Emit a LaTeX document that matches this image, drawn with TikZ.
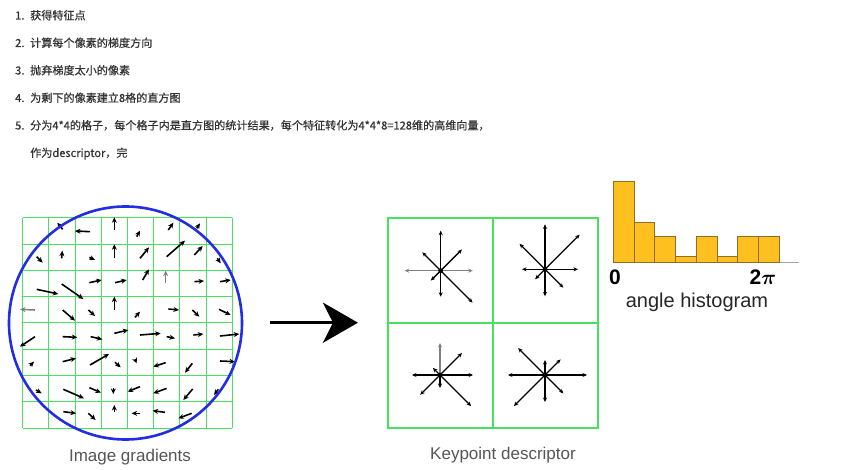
\documentclass[tikz,border=0pt]{standalone}
\usepackage{fontspec}
\setmainfont{Liberation Sans}
\newfontfamily\cjkfont[FakeBold=0.5]{Noto Sans CJK SC}
\usetikzlibrary{arrows.meta}

\definecolor{textgray}{RGB}{50,50,50}
\definecolor{labelgray}{RGB}{85,85,85}
\definecolor{gridgreen}{RGB}{70,225,95}
\definecolor{circleblue}{RGB}{35,45,225}
\definecolor{barfill}{RGB}{253,192,30}
\definecolor{baredge}{RGB}{140,110,40}

\begin{document}
\begin{tikzpicture}[x=1pt,y=-1pt,
    stepline/.style={font=\cjkfont\fontsize{11.1}{13}\selectfont, text=textgray, anchor=base west, inner sep=0pt},
    caption/.style={font=\fontsize{17}{20}\selectfont, text=labelgray},
    grad/.style={line width=1.6pt, -{Stealth[length=5.5pt,width=5pt]}},
    star/.style={line width=1.3pt, -{Stealth[length=4.5pt,width=4pt]}},
    bar/.style={fill=barfill, draw=baredge, line width=0.8pt}]
  \fill[white] (0,0) rectangle (868,470);
  \useasboundingbox (0,0) rectangle (868,470);

  % steps
  \node[stepline] (s1) at (15,19.5) {\makebox[15pt][l]{1.}获得特征点};
  \node[stepline] (s2) at (15,47) {\makebox[15pt][l]{2.}计算每个像素的梯度方向};
  \node[stepline] (s3) at (15,74.5) {\makebox[15pt][l]{3.}抛弃梯度太小的像素};
  \node[stepline] (s4) at (15,102) {\makebox[15pt][l]{4.}为剩下的像素建立8格的直方图};
  \node[stepline] (s5) at (15,129.5) {\makebox[15pt][l]{5.}分为4*4的格子，每个格子内是直方图的统计结果，每个特征转化为4*4*8=128维的高维向量，};
  \node[stepline] (s6) at (15,157) {\makebox[15pt][l]{}作为descriptor，完};

  % image gradients
  \foreach \i in {0,...,8} {
    \draw[gridgreen, line width=1pt] ({22.7+26.2*\i},218) -- ({22.7+26.2*\i},428);
    \draw[gridgreen, line width=1pt] (22.7,{218+26.25*\i}) -- (232.3,{218+26.25*\i});
  }
  \begin{scope}[yshift=-200pt, x=1/3pt, y=-1/3pt]
    \foreach \xa/\ya/\xb/\yb in {188/88/172/68, 270/95/225/93, 343/90/343/52, 410/110/420/92, 505/90/520/68, 590/85/600/70,
        110/170/128/188, 185/175/187/152, 268/172/285/180, 343/175/343/133, 420/175/447/142, 500/170/555/122, 583/165/608/138, 652/175/662/190,
        110/268/175/282, 185/252/250/297, 268/248/305/240, 345/248/380/240, 428/240/447/208, 583/245/612/243, 660/245/692/240,
        188/330/225/362, 265/330/285/348, 343/330/343/290, 405/352/420/335, 505/327/537/330, 577/330/598/350, 657/328/692/345,
        105/410/60/440, 188/410/232/412, 272/410/307/418, 343/400/385/390, 420/405/482/400, 500/410/525/415, 580/405/610/402, 660/408/718/402,
        90/497/102/485, 188/485/228/475, 270/495/327/462, 345/487/362/502, 405/478/410/490, 497/488/460/500, 577/490/555/518, 660/483/705/485,
        108/570/125/580, 190/568/252/595, 268/563/303/578, 340/565/340/582, 420/560/383/575, 500/565/460/580, 578/567/550/600, 655/568/642/585,
        190/635/228/640, 265/640/287/660, 343/635/343/615, 420/640/395/640, 495/637/458/632, 575/640/535/655}
      \draw[grad] (\xa,\ya) -- (\xb,\yb);
    \draw[grad, gray] (497,250) -- (497,212);
    \draw[grad, gray] (105,330) -- (60,328);
  \end{scope}
  \draw[circleblue, line width=2.6pt] (125.5,323) circle (116.5pt);
  \node[caption] (gradlabel) at (130,457) {Image gradients};

  % big arrow
  \coordinate (from) at (270,322.7);
  \coordinate (to) at (358,322.7);
  \draw[line width=3.5pt, -{Stealth[length=35pt,width=40pt,inset=10pt]}] (from) -- (to);

  % keypoint descriptor
  \draw[gridgreen, line width=1.8pt] (388.3,218.3) rectangle (598.3,428.3);
  \draw[gridgreen, line width=1.8pt] (493.3,218.3) -- (493.3,428.3);
  \draw[gridgreen, line width=1.8pt] (388.3,323.3) -- (598.3,323.3);
  \coordinate (tl) at (440.7,270.7);
  \coordinate (tr) at (545,269.3);
  \coordinate (bl) at (440,375);
  \coordinate (br) at (545,375);
  \foreach \a/\l/\col in {0/32/gray,45/30/black,90/40/black,135/26/black,180/36/gray,225/14/black,270/26/black,315/45/black}
    \draw[star, \col] (tl) -- ++(\a:\l pt);
  \foreach \a/\l/\col in {0/33/black,45/49/black,90/45/black,135/36/black,180/23/black,225/14/black,270/27/black,315/26/black}
    \draw[star, \col] (tr) -- ++(\a:\l pt);
  \foreach \a/\l/\col in {0/33/black,45/31/black,90/32/gray,135/10/black,180/28/black,225/28/black,270/13/black,315/44/black}
    \draw[star, \col] (bl) -- ++(\a:\l pt);
  \foreach \a/\l/\col in {0/42/black,45/22/black,90/15/black,135/38/black,180/37/black,225/44/black,270/27/black,315/26/black}
    \draw[star, \col] (br) -- ++(\a:\l pt);
  \foreach \c in {tl,tr,bl,br}
    \fill (\c) circle (2.4pt);
  \node[caption] (desclabel) at (503,455) {Keypoint descriptor};

  % angle histogram
  \draw[gray!70, line width=0.8pt] (613.3,262.7) -- (799,262.7);
  \foreach \h [count=\k] in {81.7,40.3,26.7,6,26.7,6,26.7,26.7}
    \draw[bar] ({613.3+20.75*(\k-1)},262.7) rectangle ({613.3+20.75*\k},{262.7-\h});
  \node[font=\bfseries\fontsize{21}{24}\selectfont] (zero) at (615,277) {0};
  \node[font=\bfseries\fontsize{21}{24}\selectfont] (twopi) at (763,277) {2{\boldmath$\pi$}};
  \node[font=\fontsize{20}{23}\selectfont, text=black!85] (histlabel) at (697,302) {angle histogram};
\end{tikzpicture}
\end{document}
